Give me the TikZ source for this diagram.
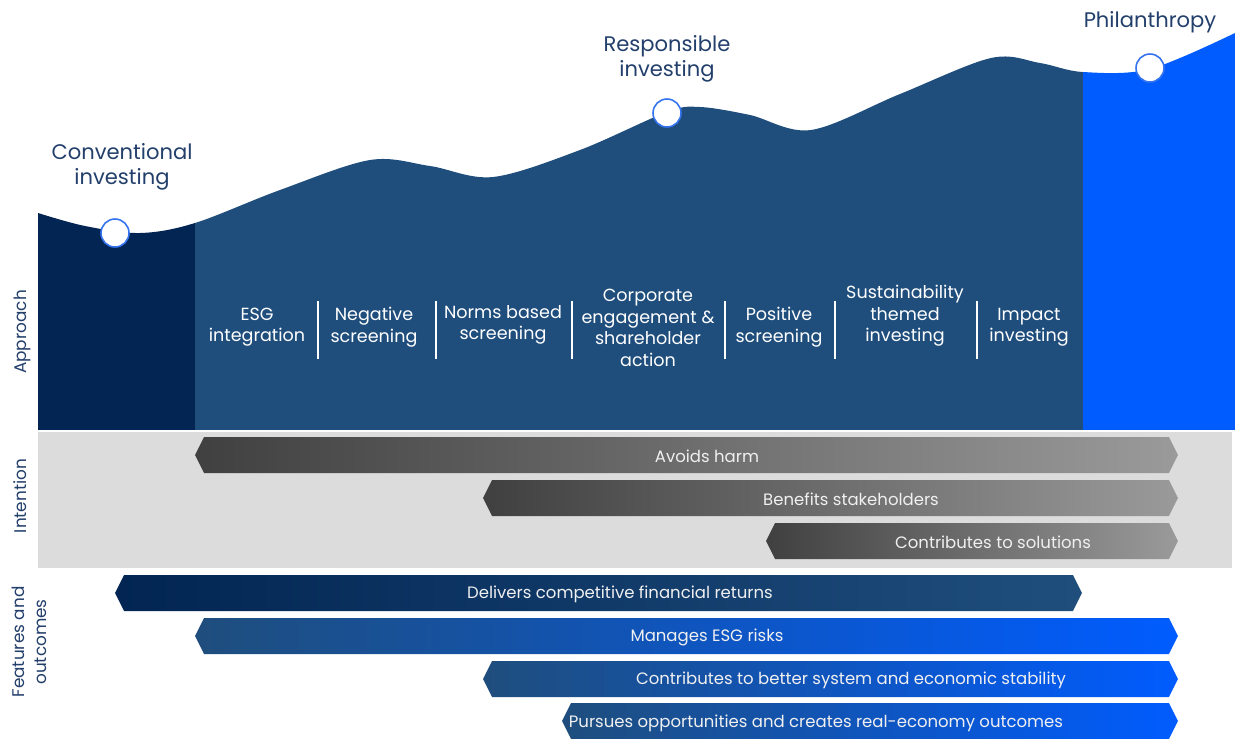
\documentclass[tikz,border=0pt]{standalone}
\usepackage{fontspec}
\setmainfont{Poppins}
\usetikzlibrary{shapes.symbols,positioning}
\definecolor{navy}{HTML}{022553}
\definecolor{midblue}{HTML}{1F4E7D}
\definecolor{brightblue}{HTML}{005CFF}
\definecolor{inkblue}{HTML}{233F6B}
\definecolor{ringblue}{HTML}{3574F0}
\definecolor{panelgray}{HTML}{DCDCDC}
\definecolor{darkgray}{HTML}{404040}
\definecolor{lightgray}{HTML}{9A9A9A}

\begin{document}
\begin{tikzpicture}[x=0.02cm,y=-0.02cm]
\tikzstyle{dot}=[circle,fill=white,draw=ringblue,line width=0.9pt,minimum size=0.56cm,inner sep=0pt]
\tikzstyle{stage}=[font=\fontsize{12}{14}\selectfont,text=inkblue,align=center]
\tikzstyle{approach}=[font=\fontsize{10}{12.2}\selectfont,text=white,align=center]
\tikzstyle{side}=[font=\fontsize{9.6}{12.6}\selectfont,text=inkblue,rotate=90,align=center]
\tikzstyle{chev}=[signal,signal to=east and west,signal pointer angle=127,minimum height=0.72cm,inner sep=0pt]
\tikzstyle{chevtext}=[font=\fontsize{9.4}{10}\selectfont,text=white!94!black]

\useasboundingbox (0,0) rectangle (1235,738);

%%%%%%%%%%%%%%%%%%%%%%%%%%%%%%%%%%%%%%%%%%%%%%%%%%%%%%%%%%%%%%%%%%%%%%%%
%APPROACH
\begin{scope}
\clip plot[smooth,tension=0.55] coordinates {(38,213) (85,226) (140,233) (195,223)
  (280,190) (370,160) (430,166) (493,177) (580,150) (667,112) (700,107) (750,115)
  (811,130) (900,94) (991,58) (1040,63) (1083,72) (1150,69) (1235,33)}
  -- (1235,430) -- (38,430) -- cycle;
\fill[navy] (38,0) rectangle (195,430);
\fill[midblue] (195,0) rectangle (1083,430);
\fill[brightblue] (1083,0) rectangle (1235,430);
\end{scope}

% stages
\node[dot] (convdot) at (115,233) {};
\node[dot] (respdot) at (667,113) {};
\node[dot] (phildot) at (1150,68) {};
\node[stage] (conv) at (122,167) {Conventional\\investing};
\node[stage] (resp) at (667,59) {Responsible\\investing};
\node[stage] (phil) at (1150,22) {Philanthropy};

% approaches
\node[approach] (esg) at (257,327) {ESG\\integration};
\node[approach] (neg) at (374,327) {Negative\\screening};
\node[approach] (norms) at (503,325) {Norms based\\screening};
\node[approach] (corp) at (648,328) {Corporate\\engagement \&\\shareholder\\action};
\node[approach] (pos) at (779,327) {Positive\\screening};
\node[approach] (theme) at (905,316) {Sustainability\\themed\\investing};
\node[approach] (impact) at (1029,327) {Impact\\investing};
\foreach \x in {318,436,572,725,835,977}
  \draw[white,line width=0.6pt] (\x,301) -- (\x,359);

%%%%%%%%%%%%%%%%%%%%%%%%%%%%%%%%%%%%%%%%%%%%%%%%%%%%%%%%%%%%%%%%%%%%%%%%
%INTENTION
\fill[panelgray] (38,432) rectangle (1232,568);
\node[chev,left color=darkgray,right color=lightgray,minimum width=19.66cm] (harm) at (686.5,455) {};
\node[chev,left color=darkgray,right color=lightgray,minimum width=13.90cm] (benefit) at (830.5,498) {};
\node[chev,left color=darkgray,right color=lightgray,minimum width=8.24cm] (solve) at (972,541) {};
\node[chevtext] (harmtxt) at (707,456) {Avoids harm};
\node[chevtext] (benefittxt) at (851,499) {Benefits stakeholders};
\node[chevtext] (solvetxt) at (993,542) {Contributes to solutions};

%%%%%%%%%%%%%%%%%%%%%%%%%%%%%%%%%%%%%%%%%%%%%%%%%%%%%%%%%%%%%%%%%%%%%%%%
%FEATURES AND OUTCOMES
\node[chev,left color=navy,right color=midblue,minimum width=19.34cm] (returns) at (598.5,593) {};
\node[chev,left color=midblue,right color=brightblue,minimum width=19.66cm] (risks) at (686.5,636) {};
\node[chev,left color=midblue,right color=brightblue,minimum width=13.90cm] (stable) at (830.5,679) {};
\node[chev,left color=midblue,right color=brightblue,minimum width=12.32cm] (outcome) at (870,721) {};
\node[chevtext] (returnstxt) at (620,594) {Delivers competitive financial returns};
\node[chevtext] (riskstxt) at (707,637) {Manages ESG risks};
\node[chevtext] (stabletxt) at (851,680) {Contributes to better system and economic stability};
\node[chevtext] (outcometxt) at (816,723) {Pursues opportunities and creates real-economy outcomes};

%%%%%%%%%%%%%%%%%%%%%%%%%%%%%%%%%%%%%%%%%%%%%%%%%%%%%%%%%%%%%%%%%%%%%%%%
% row labels
\node[side] (approachlbl) at (22,332) {Approach};
\node[side] (intentlbl) at (20,496) {Intention};
\node[side] (featurelbl) at (29,642) {Features and\\outcomes};

\end{tikzpicture}
\end{document}
